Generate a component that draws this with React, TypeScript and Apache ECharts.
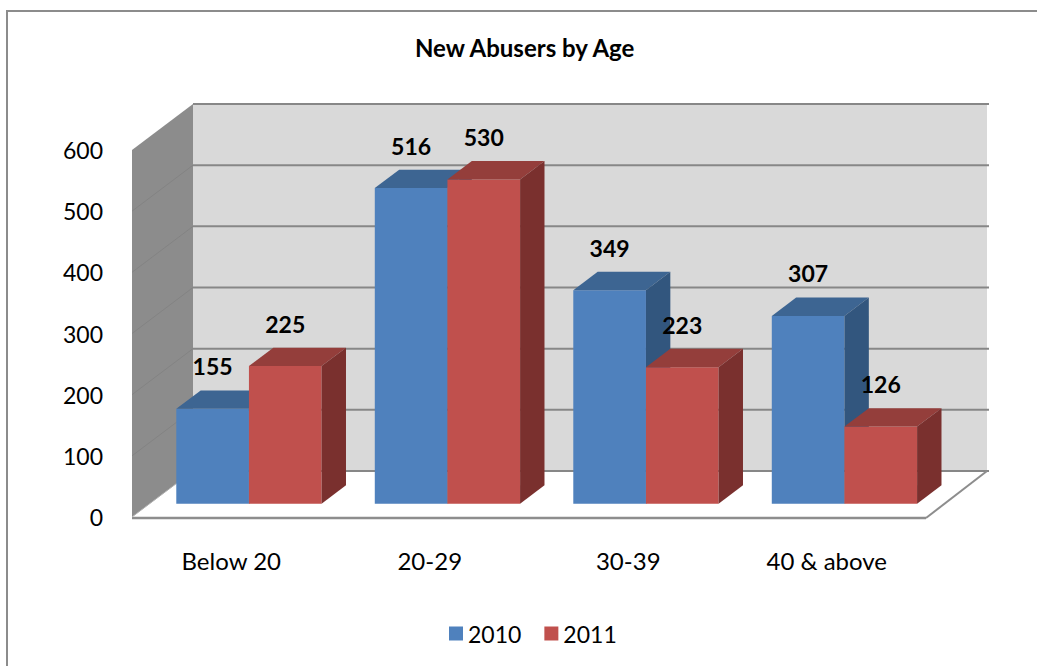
import React, { useEffect, useRef } from "react";
import * as echarts from "echarts";

const categories = ["Below 20", "20-29", "30-39", "40 & above"];
const seriesNames = ["2010", "2011"];
const values2010 = [155, 516, 349, 307];
const values2011 = [225, 530, 223, 126];
const yTicks = [0, 100, 200, 300, 400, 500, 600];
const titleText = "New Abusers by Age";

const FONT = "Lato, 'Open Sans', sans-serif";
const DEPTH = [61, -46];
const FRONT = 0.29;
const BACK = 0.69;
const BAR_FRAC = 0.366;

const palettes = [
  { front: "#4F81BD", top: "#3D6592", side: "#32567E" },
  { front: "#C0504D", top: "#943E3B", side: "#7A302E" },
];

function makeBarRender(sIdx: number) {
  return (params: any, api: any) => {
    const i = api.value(0);
    const v = api.value(1);
    const base = api.coord([i, 0]);
    const topP = api.coord([i, v]);
    const band = api.size([1, 0])[0];
    const w = band * BAR_FRAC;
    const sx = DEPTH[0] * FRONT;
    const sy = DEPTH[1] * FRONT;
    const bdx = DEPTH[0] * (BACK - FRONT);
    const bdy = DEPTH[1] * (BACK - FRONT);
    const left = base[0] + sx + (sIdx - 1) * w;
    const yTop = topP[1] + sy;
    const yBot = base[1] + sy;
    const pal = palettes[sIdx];
    return {
      type: "group",
      children: [
        {
          type: "rect",
          shape: { x: left, y: yTop, width: w, height: yBot - yTop },
          style: { fill: pal.front },
        },
        {
          type: "polygon",
          shape: {
            points: [
              [left, yTop],
              [left + w, yTop],
              [left + w + bdx, yTop + bdy],
              [left + bdx, yTop + bdy],
            ],
          },
          style: { fill: pal.top },
        },
        {
          type: "polygon",
          shape: {
            points: [
              [left + w, yTop],
              [left + w + bdx, yTop + bdy],
              [left + w + bdx, yBot + bdy],
              [left + w, yBot],
            ],
          },
          style: { fill: pal.side },
        },
        {
          type: "text",
          x: left + w / 2,
          y: yTop + bdy - 24,
          style: {
            text: String(v),
            fill: "#000",
            font: `bold 23px ${FONT}`,
            align: "center",
            verticalAlign: "middle",
          },
        },
      ],
    };
  };
}

function renderWalls(params: any, api: any) {
  const cs = params.coordSys;
  const gx = cs.x;
  const gy = cs.y;
  const gw = cs.width;
  const gh = cs.height;
  const dx = DEPTH[0];
  const dy = DEPTH[1];
  const children: any[] = [];
  children.push({
    type: "polygon",
    shape: {
      points: [
        [gx, gy + gh],
        [gx + gw, gy + gh],
        [gx + gw + dx, gy + gh + dy],
        [gx + dx, gy + gh + dy],
      ],
    },
    style: { fill: "#FFFFFF" },
  });
  children.push({
    type: "rect",
    shape: { x: gx + dx, y: gy + dy, width: gw, height: gh },
    style: { fill: "#D9D9D9" },
  });
  children.push({
    type: "polygon",
    shape: {
      points: [
        [gx, gy + gh],
        [gx, gy],
        [gx + dx, gy + dy],
        [gx + dx, gy + gh + dy],
      ],
    },
    style: { fill: "#8C8C8C" },
  });
  yTicks.forEach((t) => {
    const y = api.coord([0, t])[1];
    children.push({
      type: "line",
      shape: { x1: gx + dx, y1: y + dy, x2: gx + gw + dx + 2, y2: y + dy },
      style: { stroke: "#878787", lineWidth: 2 },
    });
    if (t !== yTicks[0] && t !== yTicks[yTicks.length - 1]) {
      children.push({
        type: "line",
        shape: { x1: gx, y1: y, x2: gx + dx, y2: y + dy },
        style: { stroke: "#838383", lineWidth: 1 },
      });
    }
  });
  children.push({
    type: "line",
    shape: { x1: gx, y1: gy + gh + 1, x2: gx + gw, y2: gy + gh + 1 },
    style: { stroke: "#8D8D8D", lineWidth: 2.5 },
  });
  children.push({
    type: "line",
    shape: { x1: gx + gw, y1: gy + gh + 1, x2: gx + gw + dx, y2: gy + gh + dy },
    style: { stroke: "#8D8D8D", lineWidth: 2 },
  });
  children.push({
    type: "line",
    shape: { x1: gx, y1: gy + gh, x2: gx + dx, y2: gy + gh + dy },
    style: { stroke: "#B0B0B0", lineWidth: 1 },
  });
  return { type: "group", children };
}

export default function App() {
  const ref = useRef<HTMLDivElement>(null);
  useEffect(() => {
    if (!ref.current) return;
    const chart = echarts.init(ref.current, undefined, { renderer: "svg" });
    const data2010 = values2010.map((v, i) => [i, v]);
    const data2011 = values2011.map((v, i) => [i, v]);
    chart.setOption({
      animation: false,
      backgroundColor: "#FFFFFF",
      title: {
        text: titleText,
        left: 410,
        top: 30,
        textStyle: { fontFamily: FONT, fontSize: 24, fontWeight: "bold", color: "#000" },
      },
      legend: {
        data: seriesNames,
        left: 444,
        top: 617,
        icon: "rect",
        itemWidth: 14,
        itemHeight: 14,
        itemGap: 23,
        textStyle: { fontFamily: FONT, fontSize: 23, color: "#000" },
      },
      graphic: [
        {
          type: "rect",
          shape: { x: 7, y: 11, width: 1200, height: 900 },
          style: { fill: "none", stroke: "#8C8C8C", lineWidth: 2 },
          silent: true,
          z: 100,
        },
      ],
      grid: { left: 132, top: 150, width: 794, height: 367 },
      xAxis: {
        type: "category",
        data: categories,
        axisLine: { show: false },
        axisTick: { show: false },
        axisLabel: { fontFamily: FONT, fontSize: 24, color: "#000", margin: 31 },
        splitLine: { show: false },
      },
      yAxis: {
        type: "value",
        min: yTicks[0],
        max: yTicks[yTicks.length - 1],
        interval: 100,
        axisLine: { show: false },
        axisTick: { show: false },
        splitLine: { show: false },
        axisLabel: { fontFamily: FONT, fontSize: 23, color: "#000", margin: 29 },
      },
      series: [
        {
          type: "custom",
          name: "walls",
          silent: true,
          renderItem: renderWalls,
          data: [[0, 0]],
          encode: { x: 0, y: 1 },
          z: 1,
        },
        {
          type: "custom",
          name: seriesNames[0],
          itemStyle: { color: palettes[0].front },
          renderItem: makeBarRender(0),
          data: data2010,
          encode: { x: 0, y: 1 },
          z: 2,
        },
        {
          type: "custom",
          name: seriesNames[1],
          itemStyle: { color: palettes[1].front },
          renderItem: makeBarRender(1),
          data: data2011,
          encode: { x: 0, y: 1 },
          z: 3,
        },
      ],
    });
    return () => chart.dispose();
  }, []);
  return (
    <div
      ref={ref}
      style={{ position: "fixed", left: 0, top: 0, width: 1037, height: 666 }}
    />
  );
}
